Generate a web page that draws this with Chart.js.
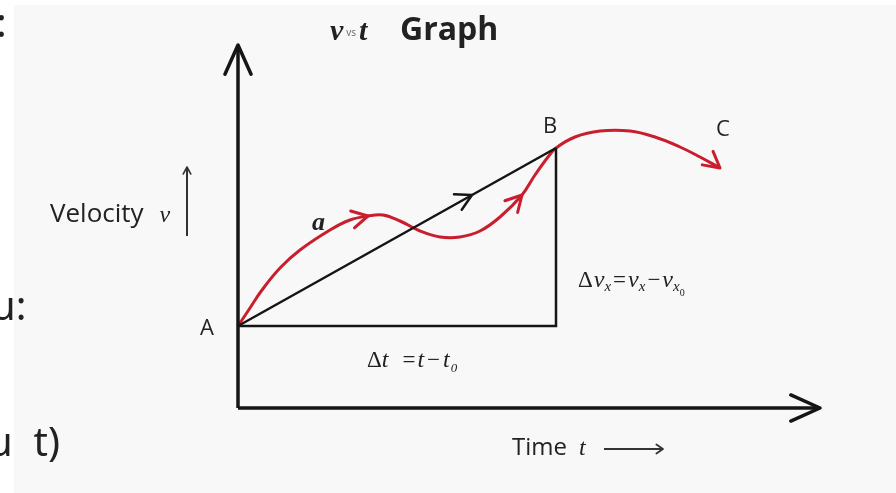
<!DOCTYPE html>
<html>
<head>
<meta charset="utf-8">
<script src="https://cdn.jsdelivr.net/npm/chart.js@4.4.0/dist/chart.umd.min.js"></script>
<style>
  html, body { margin: 0; padding: 0; background: #fff; overflow: hidden; }
  #wrap { position: relative; width: 896px; height: 493px; }
  #bg { position: absolute; left: 14px; top: 5px; right: 0; bottom: 0; background: #f8f8f8; }
  canvas { position: absolute; left: 0; top: 0; }
  .side { position: absolute; font-family: "Noto Sans"; font-size: 40px; color: #222; white-space: nowrap; line-height: 1; }
</style>
</head>
<body>
<div id="wrap">
  <div id="bg"></div>
  <canvas id="chart" width="896" height="493"></canvas>
  <div class="side" style="left:-4px; top:2px;">:</div>
  <div class="side" style="left:-9px; top:285px;">u:</div>
  <div class="side" style="left:-12px; top:421px;">u&nbsp;&nbsp;t)</div>
</div>
<script>
// values (t = time, v = velocity, arbitrary units)
const curveT = [0, 12, 24, 42, 62, 92, 112, 130, 145, 162, 182, 202, 222, 242, 262, 284, 297, 310, 318, 337, 362, 392, 417, 442, 462, 482];
const curveV = [82, 100, 118, 140, 158, 178, 188, 192, 193, 187, 177, 171, 171, 177, 191, 213, 233, 251, 260, 271, 277, 277, 271, 261, 251, 240];

const chordT = [0, 318];
const chordV = [82, 260];

const deltaT = [0, 318, 318];
const deltaV = [82, 82, 260];

const axisVT = [0, 0];
const axisVV = [0, 363];
const axisHT = [0, 582];
const axisHV = [0, 0];

const pts = (ts, vs) => ts.map((t, i) => ({ x: t, y: vs[i] }));

// arrow heads: [from t, from v, tip t, tip v]
const redArrows = [
  [112, 188, 130, 192],
  [272, 200, 284, 213],
  [467, 252, 482, 240],
];
const blackArrows = [
  [200, 196, 234, 213],
  [0, 300, 0, 363],
  [500, 0, 582, 0],
];

const RED = "#c81e2e";
const INK = "#151515";

function drawHead(ctx, x1, y1, x2, y2, len, spread, color, width) {
  const a = Math.atan2(y2 - y1, x2 - x1);
  ctx.save();
  ctx.strokeStyle = color;
  ctx.lineWidth = width;
  ctx.lineCap = "round";
  ctx.lineJoin = "round";
  ctx.beginPath();
  ctx.moveTo(x2 - len * Math.cos(a - spread), y2 - len * Math.sin(a - spread));
  ctx.lineTo(x2, y2);
  ctx.lineTo(x2 - len * Math.cos(a + spread), y2 - len * Math.sin(a + spread));
  ctx.stroke();
  ctx.restore();
}

function drawRun(ctx, x, y, parts) {
  parts.forEach((p) => {
    ctx.font = p.font;
    ctx.fillStyle = p.color || "#222";
    ctx.fillText(p.text, x, y + (p.dy || 0));
    x += ctx.measureText(p.text).width + (p.gap || 0);
  });
}

const serif = "'Liberation Serif'";
const sans = "'Open Sans'";

const decorPlugin = {
  id: "decor",
  afterDatasetsDraw(chart) {
    const { ctx, scales } = chart;
    const px = (t) => scales.x.getPixelForValue(t);
    const py = (v) => scales.y.getPixelForValue(v);

    redArrows.forEach((a) => drawHead(ctx, px(a[0]), py(a[1]), px(a[2]), py(a[3]), 18, 0.5, RED, 3));
    blackArrows.forEach((a, i) => {
      const big = i > 0;
      drawHead(ctx, px(a[0]), py(a[1]), px(a[2]), py(a[3]), big ? 32 : 18, big ? 0.42 : 0.5, INK, big ? 3.5 : 2.5);
    });

    // small velocity arrow beside the label
    ctx.save();
    ctx.strokeStyle = "#333";
    ctx.lineWidth = 2;
    ctx.beginPath();
    ctx.moveTo(187, 236);
    ctx.lineTo(187, 168);
    ctx.stroke();
    drawHead(ctx, 187, 190, 187, 167, 8, 0.5, "#333", 1.6);
    // time arrow
    ctx.lineWidth = 1.8;
    ctx.beginPath();
    ctx.moveTo(604, 449);
    ctx.lineTo(662, 449);
    ctx.stroke();
    drawHead(ctx, 640, 449, 663, 449, 8, 0.6, "#333", 1.8);
    ctx.restore();

    ctx.save();
    ctx.textBaseline = "alphabetic";
    // title
    drawRun(ctx, 330, 40, [
      { text: "v", font: `bold italic 30px ${serif}`, gap: 3 },
      { text: "vs", font: `10px ${sans}`, color: "#666", dy: -4, gap: 3 },
      { text: "t", font: `bold italic 30px ${serif}`, gap: 0 },
    ]);
    drawRun(ctx, 400, 40, [{ text: "Graph", font: `bold 32px ${sans}` }]);

    // axis labels
    drawRun(ctx, 50, 222, [
      { text: "Velocity", font: `26px ${sans}`, gap: 16 },
      { text: "v", font: `italic 24px ${serif}` },
    ]);
    drawRun(ctx, 512, 455, [
      { text: "Time", font: `24px ${sans}`, gap: 12 },
      { text: "t", font: `italic 24px ${serif}` },
    ]);

    // point labels
    ctx.font = `22px ${sans}`;
    ctx.fillStyle = "#222";
    ctx.fillText("A", px(chordT[0]) - 38, py(chordV[0]) + 9);
    ctx.fillText("B", px(chordT[1]) - 13, py(chordV[1]) - 15);
    ctx.fillText("C", px(curveT[curveT.length - 1]) - 4, py(curveV[curveV.length - 1]) - 32);
    ctx.font = `bold italic 26px ${serif}`;
    ctx.fillText("a", 312, 230);

    // delta labels
    const sub = `italic 15px ${serif}`;
    drawRun(ctx, 578, 287, [
      { text: "Δ", font: `23px ${serif}`, gap: 1 },
      { text: "v", font: `italic 24px ${serif}` },
      { text: "x", font: sub, dy: 4, gap: 2 },
      { text: "=", font: `23px ${serif}`, gap: 2 },
      { text: "v", font: `italic 24px ${serif}` },
      { text: "x", font: sub, dy: 4, gap: 2 },
      { text: "−", font: `23px ${serif}`, gap: 2 },
      { text: "v", font: `italic 24px ${serif}` },
      { text: "x", font: sub, dy: 4 },
      { text: "0", font: `10px ${serif}`, dy: 9 },
    ]);
    drawRun(ctx, 367, 367, [
      { text: "Δ", font: `23px ${serif}` },
      { text: "t", font: `italic 24px ${serif}`, gap: 14 },
      { text: "=", font: `23px ${serif}`, gap: 2 },
      { text: "t", font: `italic 24px ${serif}`, gap: 3 },
      { text: "−", font: `23px ${serif}`, gap: 3 },
      { text: "t", font: `italic 24px ${serif}`, gap: 1 },
      { text: "0", font: `italic 13px ${serif}`, dy: 5 },
    ]);
    ctx.restore();
  },
};

new Chart(document.getElementById("chart"), {
  type: "scatter",
  data: {
    datasets: [
      { data: pts(axisVT, axisVV), borderColor: INK, borderWidth: 3.5 },
      { data: pts(axisHT, axisHV), borderColor: INK, borderWidth: 3.5 },
      { data: pts(deltaT, deltaV), borderColor: INK, borderWidth: 2.5 },
      { data: pts(chordT, chordV), borderColor: INK, borderWidth: 2.5 },
      { data: pts(curveT, curveV), borderColor: RED, borderWidth: 3, tension: 0.4 },
    ],
  },
  options: {
    responsive: false,
    animation: false,
    showLine: true,
    elements: { point: { radius: 0, hoverRadius: 0 } },
    layout: { padding: 0 },
    plugins: { legend: { display: false }, tooltip: { enabled: false } },
    scales: {
      x: { type: "linear", min: -238, max: 658, display: false },
      y: { type: "linear", min: -85, max: 408, display: false },
    },
  },
  plugins: [decorPlugin],
});
</script>
</body>
</html>
